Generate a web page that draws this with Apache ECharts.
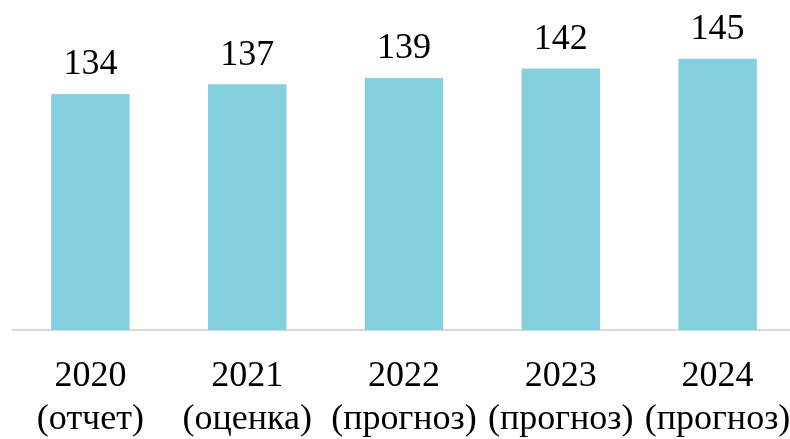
<!DOCTYPE html>
<html>
<head>
<meta charset="utf-8">
<script src="https://cdn.jsdelivr.net/npm/echarts@6/dist/echarts.min.js"></script>
<style>
  html, body { margin: 0; padding: 0; background: #fff; overflow: hidden; }
  #chart { width: 790px; height: 439px; }
</style>
</head>
<body>
<div id="chart"></div>
<script>
const categories = [
  "2020\n(отчет)",
  "2021\n(оценка)",
  "2022\n(прогноз)",
  "2023\n(прогноз)",
  "2024\n(прогноз)",
];
const values = [134, 137, 139, 142, 145];

const font = "'Liberation Serif', 'Times New Roman', serif";
const chart = echarts.init(document.getElementById("chart"));

chart.setOption({
  animation: false,
  grid: {
    left: 12, width: 784, top: 11, height: 319,
    containLabel: false,
    outerBoundsMode: "none",
  },
  xAxis: {
    type: "category",
    data: categories,
    axisLine: { show: true, lineStyle: { color: "#D9D9D9", width: 2 } },
    axisTick: { show: false },
    axisLabel: {
      color: "#000",
      fontFamily: font,
      fontSize: 36,
      lineHeight: 43,
      margin: 25,
      interval: 0,
    },
  },
  yAxis: {
    type: "value",
    min: 60,
    max: 160,
    show: false,
    splitLine: { show: false },
  },
  series: [
    {
      type: "bar",
      data: values,
      barWidth: "50%",
      itemStyle: { color: "#85D0DE" },
      label: {
        show: true,
        position: "top",
        distance: 11,
        color: "#000",
        fontFamily: font,
        fontSize: 36,
      },
    },
  ],
});
</script>
</body>
</html>
